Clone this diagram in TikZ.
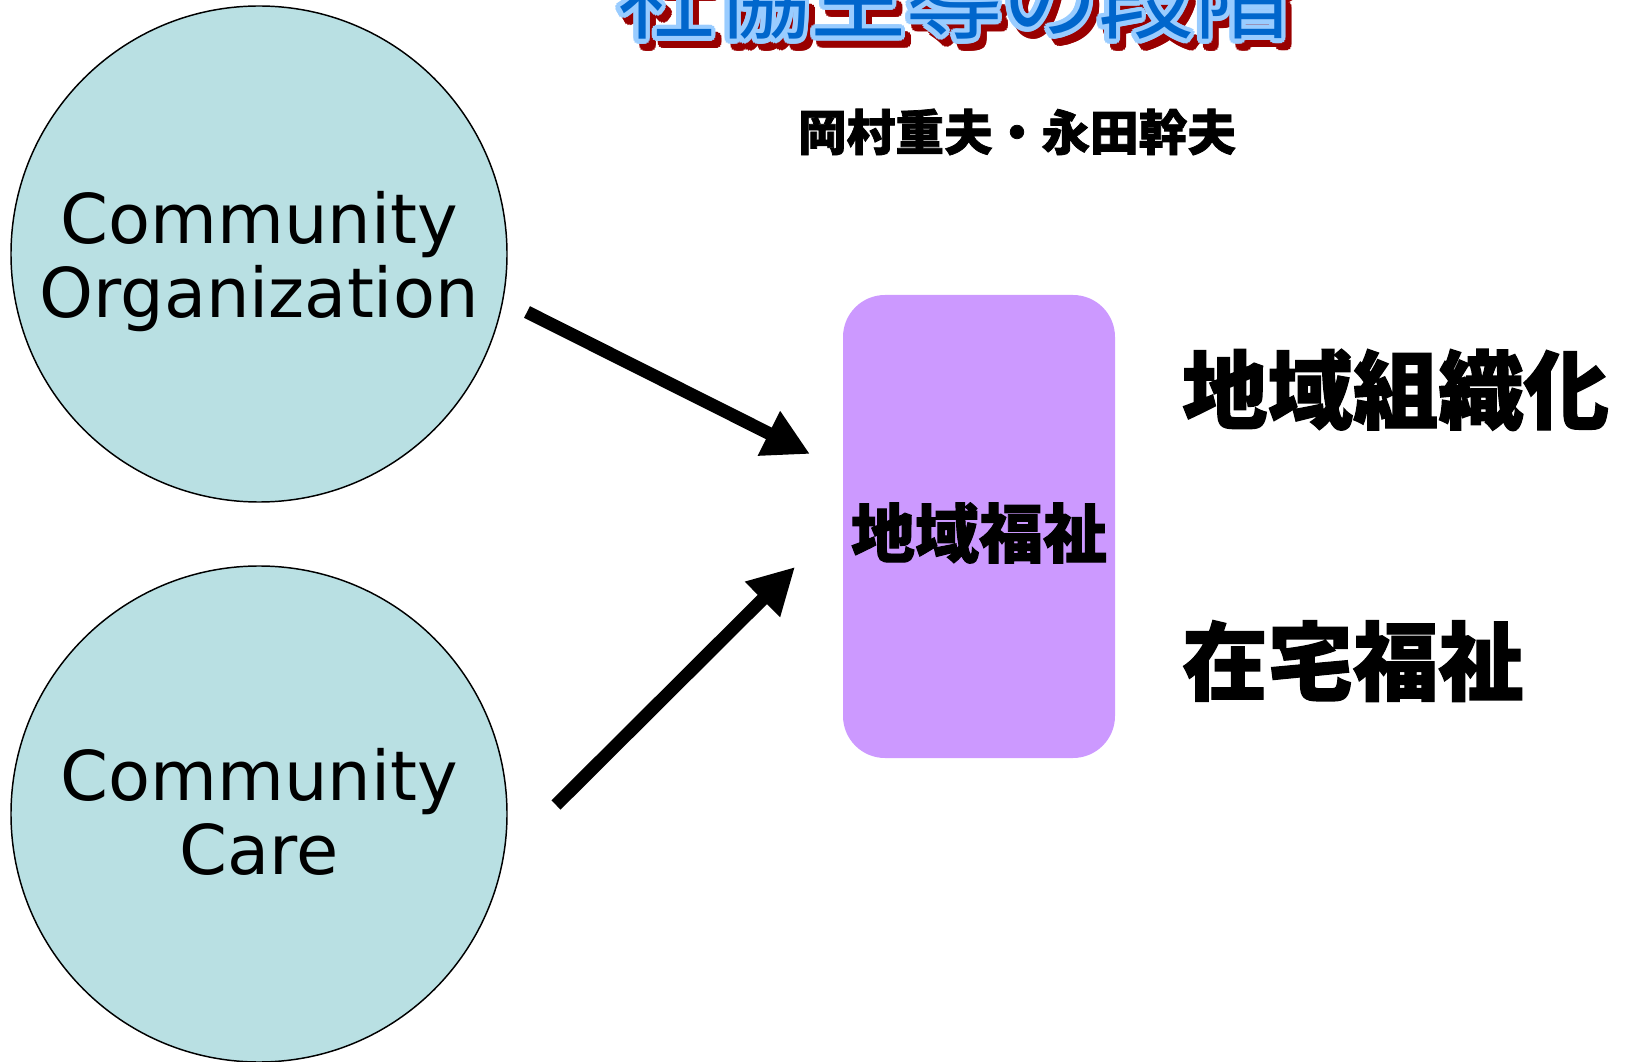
\documentclass[tikz,border=0pt]{standalone}
\usepackage{fontspec}
\setmainfont{DejaVu Sans}
\newfontfamily\jp{Noto Sans CJK JP}[BoldFeatures={FakeBold=1.5}]
\usetikzlibrary{arrows.meta,calc}
\definecolor{circfill}{HTML}{B9E0E3}
\definecolor{boxfill}{HTML}{CC99FF}
\definecolor{ttlblue}{HTML}{0066CC}
\definecolor{ttlline}{HTML}{99CCFF}
\definecolor{ttlshadow}{HTML}{990000}
\begin{document}
\begin{tikzpicture}[x=0.75pt,y=-0.75pt,
  bubble/.style={circle, draw=black, line width=1.1pt, fill=circfill, minimum size=372pt, inner sep=0pt},
  entext/.style={align=center, font=\fontsize{51.5pt}{55.5pt}\selectfont, inner sep=0pt},
  card/.style={rounded corners=31.5pt, fill=boxfill, minimum width=204pt, minimum height=347.25pt, inner sep=0pt},
  heavy/.style={font=\jp\bfseries\fontsize{64pt}{64pt}\selectfont, inner sep=0pt},
  cardtext/.style={font=\jp\bfseries\fontsize{48pt}{48pt}\selectfont, inner sep=0pt},
  author/.style={font=\jp\bfseries\fontsize{36.5pt}{36.5pt}\selectfont, inner sep=0pt},
  ttl/.style={font=\jp\fontsize{72pt}{72pt}\selectfont, inner sep=0pt, anchor=base},
  bigarrow/.style={line width=9.75pt, -{Triangle[length=34.5pt,width=35pt]}}
]
\useasboundingbox (0,0) rectangle (1629,1062);

% title with shadow and outline
\coordinate (ttlpos) at (954,32);
\foreach \a [count=\i] in {0,22.5,...,337.5} {
  \node[ttl, text=ttlshadow] (tsh\i) at ($(ttlpos)+(6,7)+(\a:4.5)$) {社協主導の段階};
}
\foreach \a [count=\i] in {0,22.5,...,337.5} {
  \node[ttl, text=ttlline] (tol\i) at ($(ttlpos)+(\a:4.5)$) {社協主導の段階};
}
\node[ttl, text=ttlblue] (title) at (ttlpos) {社協主導の段階};

\node[author] (authors) at (1017,132) {岡村重夫・永田幹夫};

% circles
\node[bubble] (co) at (259,254) {};
\node[entext] (cotext) at (259,262) {Community\\Organization};
\node[bubble] (cc) at (259,814) {};
\node[entext] (cctext) at (259,812) {Community\\Care};

% central card
\node[card] (welfare) at (979,526.5) {};
\node[cardtext] (welfaretext) at (979,533) {地域福祉};

% right labels
\node[heavy, anchor=west] (org) at (1182,390) {地域組織化};
\node[heavy, anchor=west] (home) at (1182,661) {在宅福祉};

% arrows
\coordinate (a1s) at (527,312);
\coordinate (a1e) at (810,454);
\coordinate (a2s) at (556,805);
\coordinate (a2e) at (795,567);
\draw[bigarrow] (a1s) -- (a1e);
\draw[bigarrow] (a2s) -- (a2e);
\end{tikzpicture}
\end{document}
